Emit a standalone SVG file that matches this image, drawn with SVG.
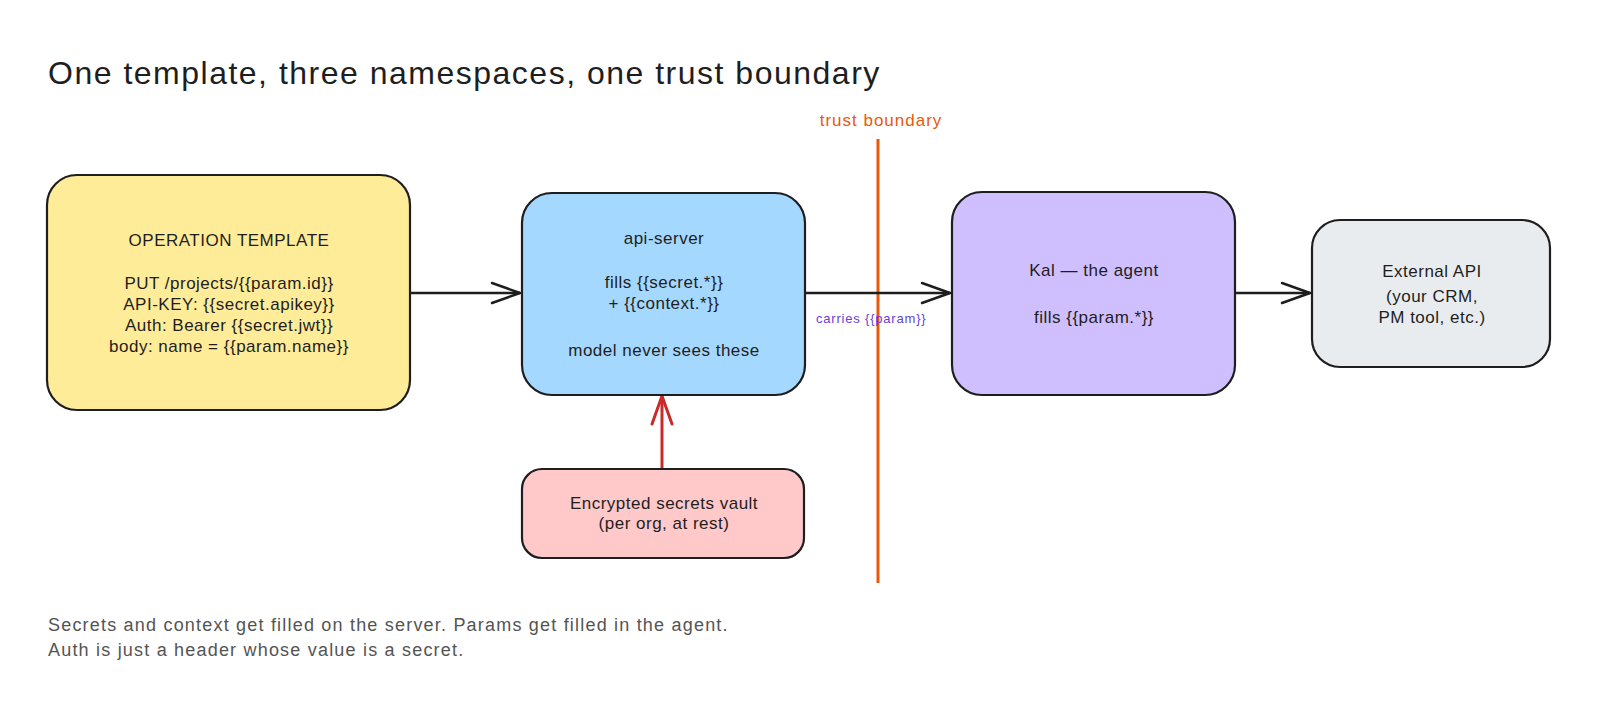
<svg xmlns="http://www.w3.org/2000/svg" width="1600" height="705" viewBox="0 0 1600 705">
<style>
  text { font-family: "Liberation Sans", "DejaVu Sans", sans-serif; fill: #1e1e1e; }
  .node { stroke: #1e1e1e; stroke-width: 2.2; }
  .lbl { font-size: 17px; text-anchor: middle; letter-spacing: 0.5px; }
  .edge { stroke: #1e1e1e; stroke-width: 2.5; fill: none; }
</style>
<defs>
  <marker id="ah" markerUnits="userSpaceOnUse" markerWidth="32" markerHeight="26" refX="29" refY="13" orient="auto" overflow="visible">
    <path d="M1,3 L29,13 L1,23" fill="none" stroke="#1e1e1e" stroke-width="2.5" stroke-linecap="round" stroke-linejoin="round"/>
  </marker>
  <marker id="ahr" markerUnits="userSpaceOnUse" markerWidth="32" markerHeight="26" refX="29" refY="13" orient="auto" overflow="visible">
    <path d="M1,3 L29,13 L1,23" fill="none" stroke="#c92a2a" stroke-width="3" stroke-linecap="round" stroke-linejoin="round"/>
  </marker>
</defs>
<rect width="1600" height="705" fill="#ffffff"/>

<text id="title" x="48" y="84" font-size="32" letter-spacing="1.5">One template, three namespaces, one trust boundary</text>

<g id="trust-boundary">
  <line x1="878" y1="139" x2="878" y2="583" stroke="#e8590c" stroke-width="3"/>
  <text x="881" y="126" font-size="17" text-anchor="middle" letter-spacing="1" style="fill:#e8590c">trust boundary</text>
</g>

<g id="connectors">
  <line class="edge" x1="410" y1="293" x2="520" y2="293" marker-end="url(#ah)"/>
  <line class="edge" x1="805" y1="293" x2="950" y2="293" marker-end="url(#ah)"/>
  <line class="edge" x1="1235" y1="293" x2="1310" y2="293" marker-end="url(#ah)"/>
  <line x1="662" y1="469" x2="662" y2="396" stroke="#c92a2a" stroke-width="3" marker-end="url(#ahr)"/>
  <text x="816" y="323" font-size="13" letter-spacing="0.8" style="fill:#6741d9">carries {{param}}</text>
</g>

<g id="node-template">
  <rect class="node" x="47" y="175" width="363" height="235" rx="30" fill="#ffec99"/>
  <text class="lbl" x="229" y="246" font-size="16" letter-spacing="1">OPERATION TEMPLATE</text>
  <text class="lbl" x="229" y="289">PUT /projects/{{param.id}}</text>
  <text class="lbl" x="229" y="310">API-KEY: {{secret.apikey}}</text>
  <text class="lbl" x="229" y="331">Auth: Bearer {{secret.jwt}}</text>
  <text class="lbl" x="229" y="352">body: name = {{param.name}}</text>
</g>

<g id="node-api-server">
  <rect class="node" x="522" y="193" width="283" height="202" rx="30" fill="#a5d8ff"/>
  <text class="lbl" x="664" y="244">api-server</text>
  <text class="lbl" x="664" y="288">fills {{secret.*}}</text>
  <text class="lbl" x="664" y="309">+ {{context.*}}</text>
  <text class="lbl" x="664" y="356">model never sees these</text>
</g>

<g id="node-agent">
  <rect class="node" x="952" y="192" width="283" height="203" rx="30" fill="#d0bfff"/>
  <text class="lbl" x="1094" y="276">Kal — the agent</text>
  <text class="lbl" x="1094" y="323">fills {{param.*}}</text>
</g>

<g id="node-external">
  <rect class="node" x="1312" y="220" width="238" height="147" rx="28" fill="#e9ecef"/>
  <text class="lbl" x="1432" y="277">External API</text>
  <text class="lbl" x="1432" y="302">(your CRM,</text>
  <text class="lbl" x="1432" y="323">PM tool, etc.)</text>
</g>

<g id="node-vault">
  <rect class="node" x="522" y="469" width="282" height="89" rx="20" fill="#ffc9c9"/>
  <text class="lbl" x="664" y="509">Encrypted secrets vault</text>
  <text class="lbl" x="664" y="529">(per org, at rest)</text>
</g>

<g id="footer">
  <text x="48" y="631" font-size="18" letter-spacing="1.2" style="fill:#545454">Secrets and context get filled on the server. Params get filled in the agent.</text>
  <text x="48" y="656" font-size="18" letter-spacing="1.2" style="fill:#545454">Auth is just a header whose value is a secret.</text>
</g>
</svg>
